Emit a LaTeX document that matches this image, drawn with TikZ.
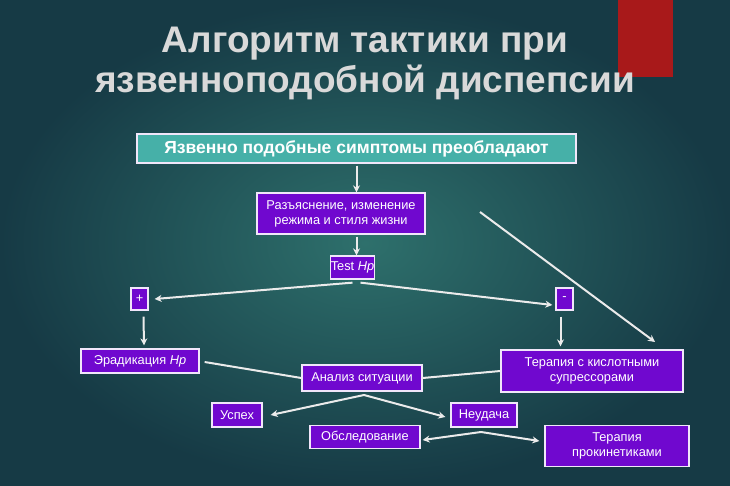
\documentclass[tikz,border=0pt]{standalone}
\usepackage{fontspec}
\setmainfont{Liberation Sans}
\usetikzlibrary{arrows.meta,calc}
\definecolor{bgin}{HTML}{2E706C}
\definecolor{bgout}{HTML}{163A45}
\definecolor{pur}{HTML}{7008CF}
\definecolor{teal}{HTML}{46B0A8}
\definecolor{redbar}{HTML}{A8191A}
\tikzset{
 box/.style={draw=white!90!pur,line width=1.3pt,fill=pur,text=white,inner sep=0pt,align=center,
   font=\fontsize{12.8}{15}\selectfont},
 arr/.style={draw=white!92!black,line width=2pt,-{Stealth[length=7pt,width=7pt]}},
 ln/.style={draw=white!92!black,line width=2pt},
}
\begin{document}
\begin{tikzpicture}[x=1pt,y=-1pt]
\useasboundingbox (0,0) rectangle (730,486);
\shade[inner color=bgin,outer color=bgout] (0,0) rectangle (730,486);
\fill[redbar] (618,0) rectangle (673,77);
\node[text=white!85!black,font=\bfseries\fontsize{37}{40}\selectfont,align=center] (title) at (365,63)
 {Алгоритм тактики при\\язвенноподобной диспепсии};
\node[box,fill=teal,minimum width=439pt,minimum height=29pt,font=\bfseries\fontsize{17.5}{20}\selectfont] (top) at (356.5,148.5) {Язвенно подобные симптомы преобладают};
\node[box,minimum width=168pt,minimum height=41pt] (raz) at (341,213.5) {Разъяснение, изменение\\режима и стиля жизни};
\node[box,minimum width=42pt,minimum height=23pt] (test) at (352.5,267.5) {Test \textit{Hp}};
\node[box,minimum width=17pt,minimum height=22pt] (plus) at (139.5,299) {+};
\node[box,minimum width=17pt,minimum height=22pt] (minus) at (564.5,299) {-};
\node[box,minimum width=118pt,minimum height=24pt] (erad) at (140,361) {Эрадикация \textit{Hp}};
\node[box,minimum width=120pt,minimum height=26pt] (anal) at (362,378) {Анализ ситуации};
\node[box,minimum width=182pt,minimum height=42pt] (tk) at (592,371) {Терапия с кислотными\\супрессорами};
\node[box,minimum width=50pt,minimum height=24pt] (usp) at (237,415) {Успех};
\node[box,minimum width=66pt,minimum height=24pt] (neud) at (484,415) {Неудача};
\node[box,minimum width=110pt,minimum height=23pt] (obs) at (365,437) {Обследование};
\node[box,minimum width=144pt,minimum height=41pt] (prok) at (617,446) {Терапия\\прокинетиками};
\coordinate (rs) at (480,212);
\coordinate (tkin) at (655,342);
\coordinate (as) at (364,395);
\coordinate (os) at (481,432);
\draw[arr] (top.south) ++(0,2) -- (top.south |- raz.north);
\draw[arr] (top.south |- raz.south) ++(0,2) -- (top.south |- test.north);
\draw[arr] ($(test.south)+(0,3)$) -- ($(plus.east)+(6,0)$);
\draw[arr] ($(test.south)+(8,3)$) -- ($(minus.west)+(-3,6)$);
\draw[arr] (rs) -- (tkin);
\draw[arr] ($(plus.south)+(4,6)$) -- ($(erad.north)+(4,-3)$);
\draw[arr] ($(minus.south)+(-4,6)$) -- ($(tk.north -| minus.south)+(-4,-3)$);
\draw[ln] ($(erad.east)+(5,1)$) -- (anal.west);
\draw[ln] (tk.west) -- (anal.east);
\draw[arr] (as) -- ($(usp.east)+(8,0)$);
\draw[arr] (as) -- ($(neud.west)+(-5,2)$);
\draw[arr] (os) -- ($(obs.east)+(2,3)$);
\draw[arr] (os) -- ($(prok.west)+(-5,-5)$);
\end{tikzpicture}
\end{document}
